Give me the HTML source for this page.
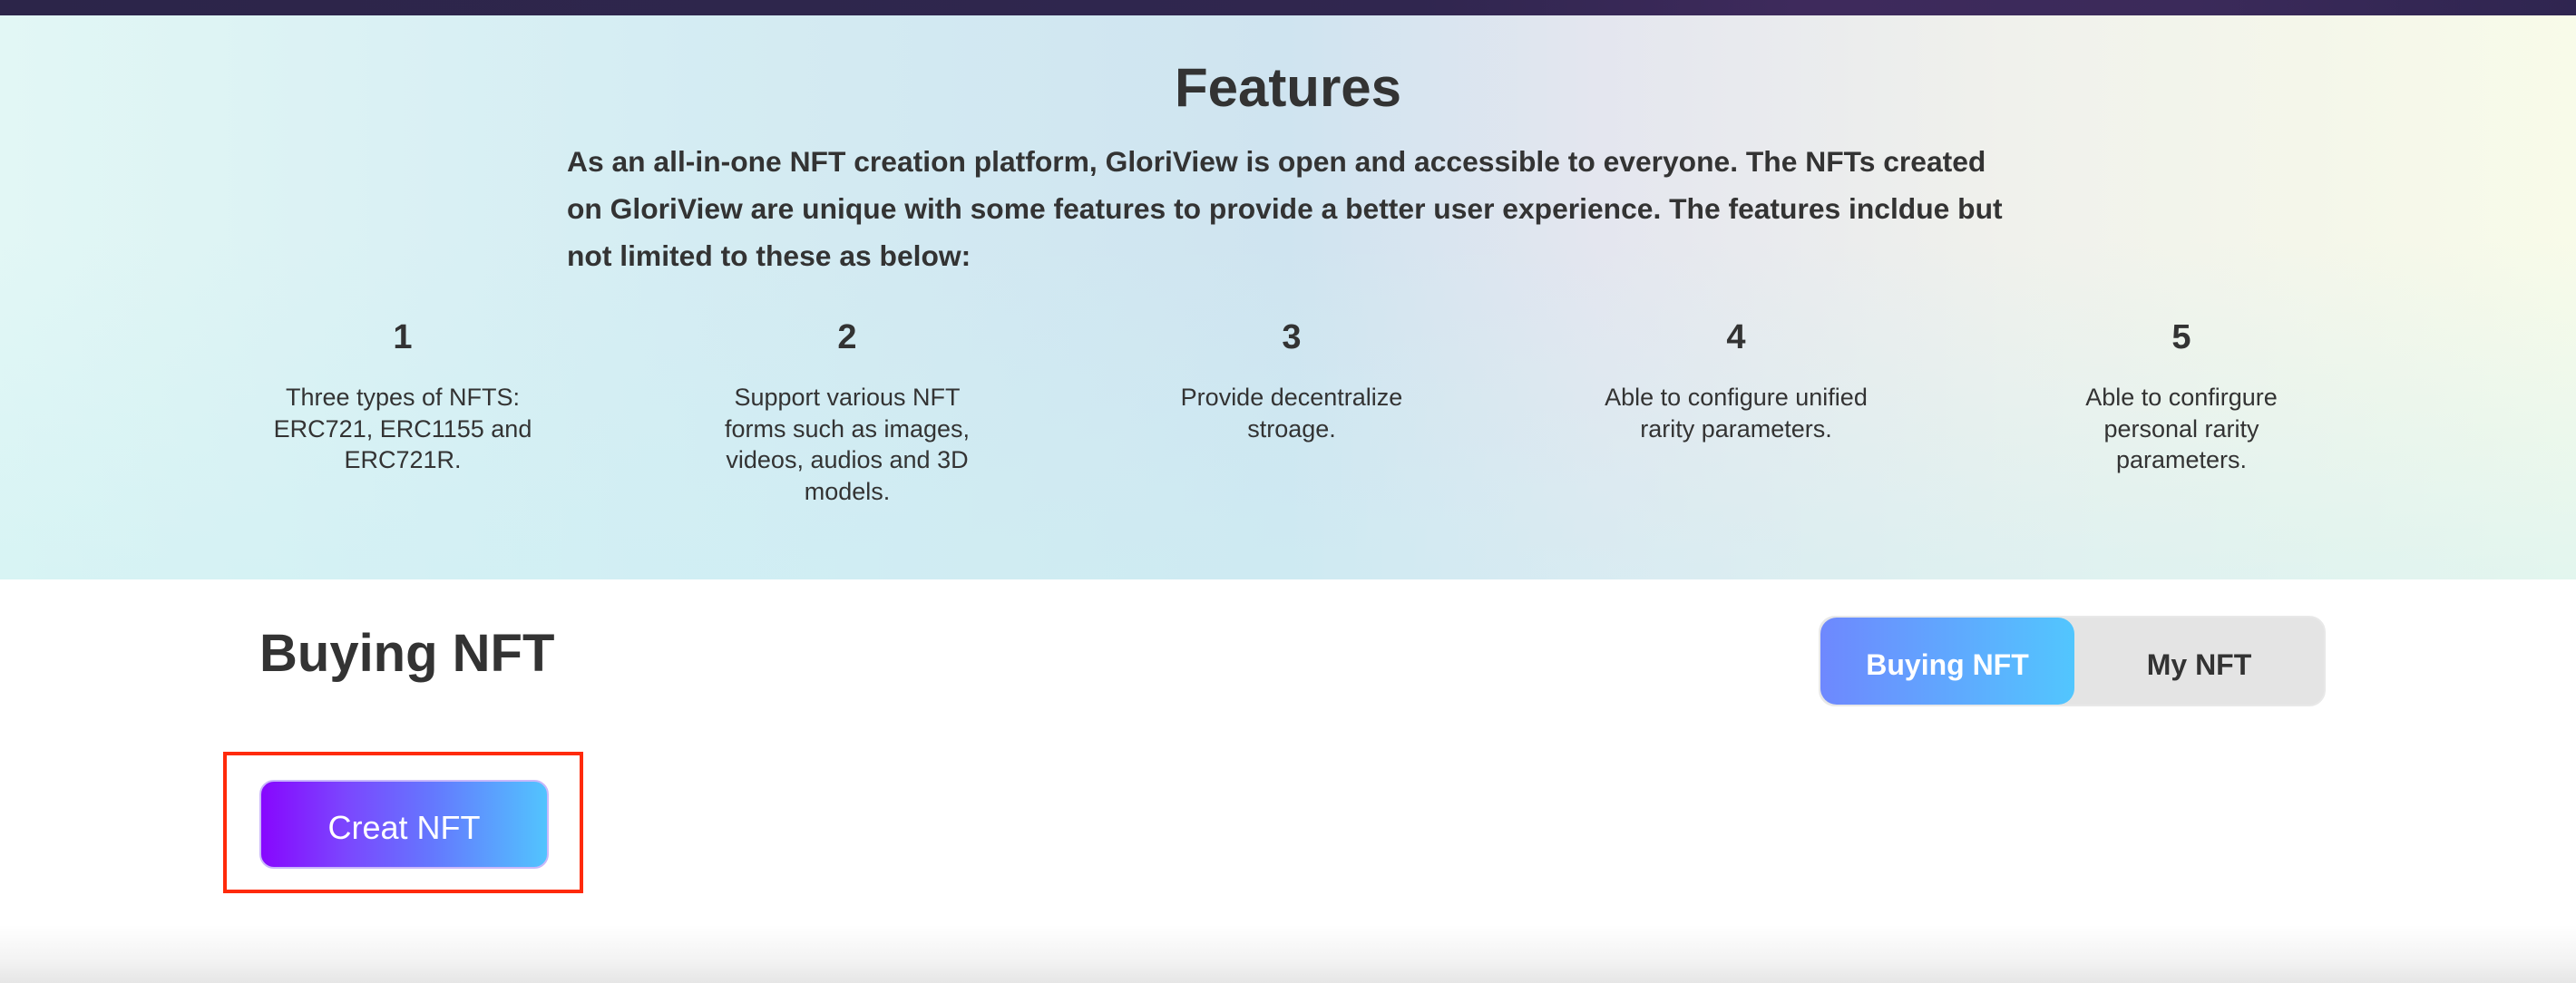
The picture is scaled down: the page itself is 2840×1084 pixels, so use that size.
<!DOCTYPE html>
<html><head><meta charset="utf-8"><style>
*{margin:0;padding:0;box-sizing:border-box}
body{width:2840px;height:1084px;overflow:hidden;background:#fff;font-family:"Liberation Sans",Arial,sans-serif;color:#333;position:relative}
.top{position:absolute;left:0;top:0;width:2840px;height:17px;background:linear-gradient(90deg,#2c2549 0%,#30264f 55%,#3e2a5c 70%,#3b2a5a 85%,#2f2550 100%)}
.feat{position:absolute;left:0;top:17px;width:2840px;height:622px;background:linear-gradient(90deg,#e2f7f5 0%,#d5edf3 25%,#cfe4f0 50%,#e4e6ef 62%,#f0f1ec 78%,#f8fbe9 100%)}
.feat2{position:absolute;left:0;top:17px;width:2840px;height:622px;background:linear-gradient(180deg,rgba(205,240,244,0) 40%,rgba(205,240,244,.5) 100%)}
h1{position:absolute;left:0;width:2840px;top:62px;text-align:center;font-size:60px;font-weight:bold;line-height:70px}
.p{position:absolute;left:625px;top:152px;width:1610px;font-size:31.8px;font-weight:bold;line-height:52px}
.col{position:absolute;top:347px;width:320px;text-align:center}
.col b{display:block;font-size:38px;line-height:50px;margin-bottom:24px}
.col div{font-size:27px;line-height:34.5px;width:300px;margin:0 auto}
h2{position:absolute;left:286px;top:686px;font-size:58px;line-height:70px;font-weight:bold}
.tog{position:absolute;left:2005px;top:679px;width:559px;height:100px;border-radius:18px;background:#e4e4e4;border:2px solid #e8e8e8}
.tog .a{position:absolute;left:0;top:0;width:280px;height:96px;border-radius:18px;background:linear-gradient(90deg,#6e88fe,#52c6fe);color:#fff;font-size:32px;font-weight:bold;text-align:center;line-height:104px}
.tog .b{position:absolute;left:280px;top:0;width:275px;height:96px;color:#333;font-size:32px;font-weight:bold;text-align:center;line-height:104px}
.red{position:absolute;left:246px;top:829px;width:397px;height:156px;border:4px solid #ff2a0a}
.btn{position:absolute;left:286px;top:860px;width:319px;height:98px;border-radius:16px;background:linear-gradient(90deg,#8707fe,#7b47fe 30%,#6478fe 60%,#52c4fe 100%);border:2px solid #c9b8fa;color:#fff;font-size:36px;text-align:center;line-height:102px}
.bot{position:absolute;left:0;top:1020px;width:2840px;height:64px;background:linear-gradient(180deg,#fff 0%,#f3f3f3 60%,#e6e6e6 100%)}
</style></head><body>
<div class="top"></div>
<div class="feat"></div><div class="feat2"></div>
<h1>Features</h1>
<div class="p">As an all-in-one NFT creation platform, GloriView is open and accessible to everyone. The NFTs created on GloriView are unique with some features to provide a better user experience. The features incldue but not limited to these as below:</div>
<div class="col" style="left:284px"><b>1</b><div>Three types of NFTS: ERC721, ERC1155 and ERC721R.</div></div>
<div class="col" style="left:774px"><b>2</b><div>Support various NFT forms such as images, videos, audios and 3D models.</div></div>
<div class="col" style="left:1264px"><b>3</b><div>Provide decentralize stroage.</div></div>
<div class="col" style="left:1754px"><b>4</b><div>Able to configure unified rarity parameters.</div></div>
<div class="col" style="left:2245px"><b>5</b><div>Able to confirgure personal rarity parameters.</div></div>
<h2>Buying NFT</h2>
<div class="tog"><div class="a">Buying NFT</div><div class="b">My NFT</div></div>
<div class="red"></div>
<div class="btn">Creat NFT</div>
<div class="bot"></div>
</body></html>
